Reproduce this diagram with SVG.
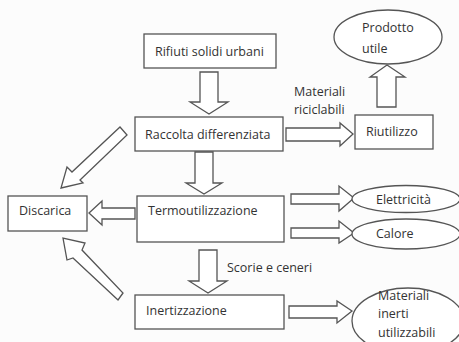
<svg xmlns="http://www.w3.org/2000/svg" width="459" height="342" viewBox="0 0 459 342">
<style>
.b{fill:#fff;stroke:#555;stroke-width:1.3}
.a{fill:#fff;stroke:#555;stroke-width:1.3;stroke-linejoin:miter}
text{font-family:"Open Sans","Liberation Sans",sans-serif;font-size:12.5px;fill:#333}
</style>
<rect width="459" height="342" fill="#fcfcfc"/>
<g id="connectors">
<polygon class="a" points="200,72 218,72 218,102 228,102 209,114 190,102 200,102"/>
<polygon class="a" points="195,152 213,152 213,183 222,183 204,194 186,183 195,183"/>
<polygon class="a" points="199,250 217,250 217,281 227,281 208,293 189,281 199,281"/>
<polygon class="a" points="286,128 340,128 340,123 353,134 340,146 340,141 286,141"/>
<polygon class="a" points="377,107 396,107 396,77 405,77 387,65 370,77 377,77"/>
<polygon class="a" points="135,208 102,208 102,201 89,213 102,225 102,219 135,219"/>
<polygon class="a" points="291,194 339,194 339,186 354,198 339,211 339,204 291,204"/>
<polygon class="a" points="291,228 339,228 339,221 354,233 339,243 339,238 291,238"/>
<polygon class="a" points="289,306 337,306 337,301 352,311 337,323 337,318 289,318"/>
<polygon class="a" points="120,127 127,135 80,180 83,183 61,188 67,167 72,172"/>
<polygon class="a" points="123,293 118,300 73,258 67,260 63,238 85,243 82,250"/>
</g>
<g id="rifiuti"><rect class="b" x="144" y="34" width="132" height="34"/><text x="155" y="56">Rifiuti solidi urbani</text></g>
<g id="raccolta"><rect class="b" x="135" y="117" width="148" height="34"/><text x="145" y="139">Raccolta differenziata</text></g>
<g id="riutilizzo"><rect class="b" x="355" y="115" width="78" height="34"/><text x="366" y="136">Riutilizzo</text></g>
<g id="prodotto"><ellipse class="b" cx="388" cy="37" rx="54" ry="27"/><text x="362" y="32">Prodotto</text><text x="362" y="53">utile</text></g>
<g id="discarica"><rect class="b" x="8" y="196" width="79" height="35"/><text x="19" y="215">Discarica</text></g>
<g id="termo"><rect class="b" x="137" y="196" width="147" height="46"/><text x="148" y="215">Termoutilizzazione</text></g>
<g id="elettricita"><ellipse class="b" cx="406" cy="199" rx="54" ry="13.5"/><text x="376" y="204">Elettricità</text></g>
<g id="calore"><ellipse class="b" cx="406" cy="234" rx="54" ry="15"/><text x="376" y="238">Calore</text></g>
<g id="inertizzazione"><rect class="b" x="135" y="295" width="149" height="34"/><text x="146" y="315">Inertizzazione</text></g>
<g id="materiali-inerti"><ellipse class="b" cx="408" cy="321" rx="56" ry="33"/><text x="378" y="300">Materiali</text><text x="378" y="318">inerti</text><text x="378" y="337">utilizzabili</text></g>
<g id="labels"><text x="294" y="96">Materiali</text><text x="294" y="114">riciclabili</text><text x="227" y="272">Scorie e ceneri</text></g>
</svg>
